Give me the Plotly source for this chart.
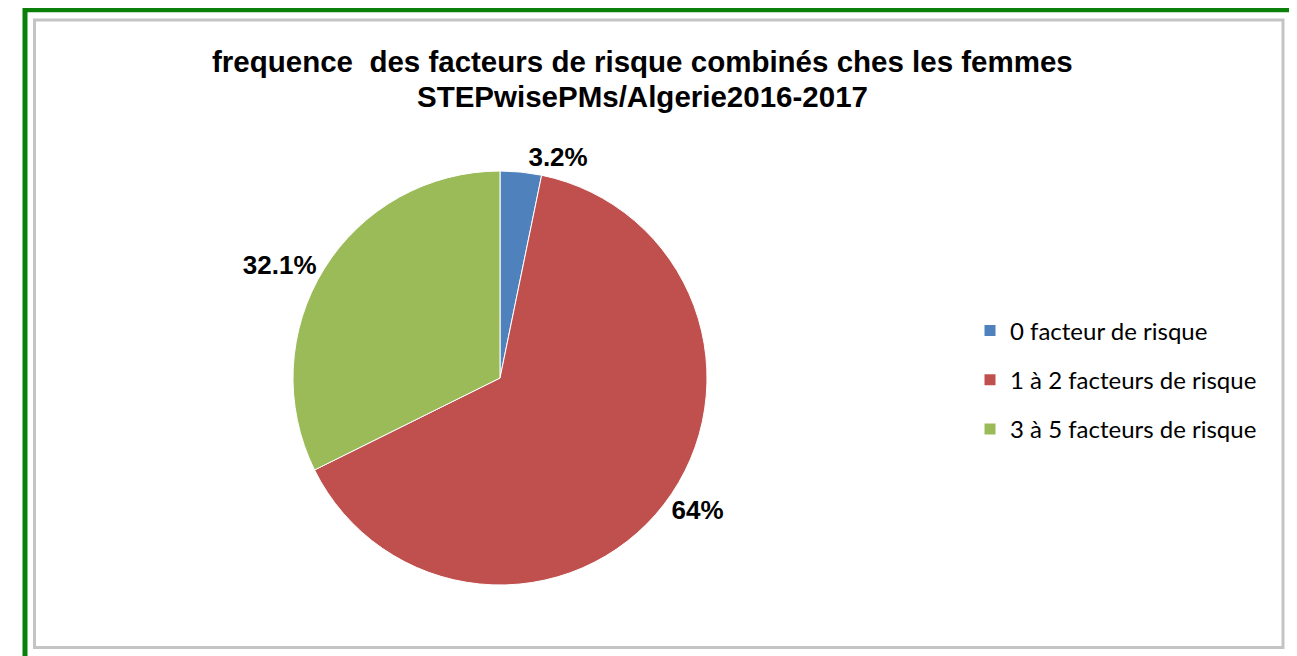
import plotly.graph_objects as go

categories = ["0 facteur de risque", "1 à 2 facteurs de risque", "3 à 5 facteurs de risque"]
values = [3.2, 64, 32.1]
colors = ["#4F81BD", "#C0504D", "#9BBB59"]
title_lines = ["frequence  des facteurs de risque combinés ches les femmes",
               "STEPwisePMs/Algerie2016-2017"]

W, H = 1297, 656
OFF = 8  # page body margin


def px_x(x):
    return (x - OFF) / W


def px_y(y):
    return 1 - (y - OFF) / H


fig = go.Figure()
fig.add_trace(go.Pie(
    labels=categories,
    values=values,
    sort=False,
    direction="clockwise",
    rotation=0,
    marker=dict(colors=colors, line=dict(color="white", width=1)),
    texttemplate="%{value}%",
    textposition="outside",
    textfont=dict(family="Liberation Sans", size=26, color="black", weight="bold"),
    domain=dict(x=[px_x(200), px_x(800)], y=[px_y(585), px_y(171)]),
    showlegend=False,
))

# legend entries (one per category, same colours as the slices)
for name, col in zip(categories, colors):
    fig.add_trace(go.Scatter(
        x=[None], y=[None], mode="markers", name=name,
        legendgroup=name,
        marker=dict(symbol="square", size=11, color=col),
        hoverinfo="skip",
    ))

annotations = []
for line, yc in zip(title_lines, [61, 96]):
    annotations.append(dict(
        text="<b>" + line + "</b>", xref="paper", yref="paper",
        x=px_x(642.5), y=px_y(yc), xanchor="center", yanchor="middle",
        showarrow=False,
        font=dict(family="Liberation Sans", size=29.5, color="black"),
    ))

fig.update_layout(
    width=W, height=H,
    margin=dict(l=0, r=0, t=0, b=0, autoexpand=False),
    paper_bgcolor="white",
    plot_bgcolor="white",
    xaxis=dict(visible=False),
    yaxis=dict(visible=False),
    annotations=annotations,
    legend=dict(
        x=962/W, xanchor="left", y=1 - 372/H, yanchor="middle",
        font=dict(family="Lato", size=24, color="black"),
        bgcolor="rgba(0,0,0,0)",
        traceorder="grouped",
        tracegroupgap=15,
    ),
    shapes=[
        dict(type="rect", xref="paper", yref="paper",
             x0=px_x(25), x1=px_x(1294.5), y0=-0.05, y1=px_y(9.7),
             line=dict(color="#0A800A", width=5)),
        dict(type="rect", xref="paper", yref="paper",
             x0=px_x(34.5), x1=px_x(1283), y0=px_y(647.5), y1=px_y(20),
             line=dict(color="#C4C4C4", width=3)),
    ],
)

fig.write_html("out.html")
